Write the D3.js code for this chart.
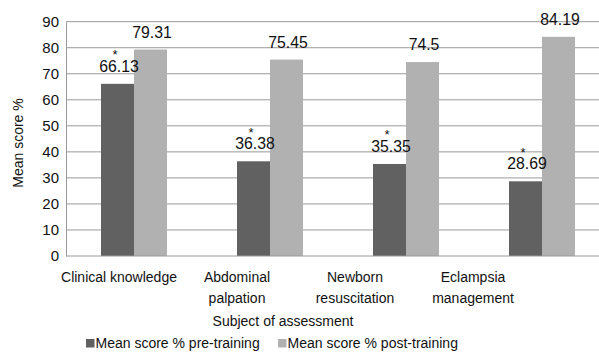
<!DOCTYPE html>
<html>
<head>
<meta charset="utf-8">
<script src="https://cdn.jsdelivr.net/npm/d3@7"></script>
<style>
  html, body { margin: 0; padding: 0; background: #fff; }
  svg { display: block; font-family: Arial, "Liberation Sans", sans-serif; }
</style>
</head>
<body>
<svg id="chart" width="599" height="352"></svg>
<script>
// Mean assessment scores before and after training
const categories = ["Clinical knowledge", "Abdominal palpation", "Newborn resuscitation", "Eclampsia management"];
const categoryLines = [["Clinical knowledge"], ["Abdominal", "palpation"], ["Newborn", "resuscitation"], ["Eclampsia", "management"]];
const seriesNames = ["Mean score % pre-training", "Mean score % post-training"];
const preTraining = [66.13, 36.38, 35.35, 28.69];
const postTraining = [79.31, 75.45, 74.5, 84.19];
const significant = [true, true, true, true];
const yTicks = [0, 10, 20, 30, 40, 50, 60, 70, 80, 90];
const colors = ["#616161", "#b1b1b1"];

const svg = d3.select("#chart");
const plot = { left: 66, right: 610, top: 21.7, bottom: 256 };

const y = d3.scaleLinear().domain([0, 90]).range([plot.bottom, plot.top]);
const x0 = d3.scaleBand().domain(categories).range([plot.left, plot.right]);
const x1 = d3.scaleBand().domain(seriesNames).range([0, x0.bandwidth()]).paddingInner(0).paddingOuter(1.06);
const xLabel = d3.scaleBand().domain(categories).range([60, 532]);

const rows = categories.map((c, i) => ({ cat: c, i, vals: [preTraining[i], postTraining[i]] }));

// horizontal gridlines
svg.append("g").selectAll("line").data(yTicks.filter(t => t > 0)).join("line")
  .attr("x1", plot.left).attr("x2", 599)
  .attr("y1", d => y(d)).attr("y2", d => y(d))
  .attr("stroke", "#9a9a9a").attr("stroke-width", 1);

// y axis
const yAxis = d3.axisLeft(y).tickValues(yTicks).tickSize(0).tickPadding(7);
const gy = svg.append("g").attr("transform", `translate(${plot.left},0)`).call(yAxis);
gy.select(".domain").attr("stroke", "#9a9a9a");
gy.selectAll("text").attr("font-size", 15).attr("fill", "#111").attr("font-family", "Arial, 'Liberation Sans', sans-serif");

// bars
const groups = svg.append("g").selectAll("g").data(rows).join("g")
  .attr("transform", d => `translate(${x0(d.cat)},0)`);
groups.selectAll("rect").data(d => d.vals.map((v, k) => ({ v, k }))).join("rect")
  .attr("x", d => x1(seriesNames[d.k]))
  .attr("width", x1.bandwidth())
  .attr("y", d => y(d.v))
  .attr("height", d => y(0) - y(d.v))
  .attr("fill", d => colors[d.k]);

// value labels
groups.selectAll("text.val").data(d => d.vals.map((v, k) => ({ v, k }))).join("text")
  .attr("class", "val")
  .attr("x", d => x1(seriesNames[d.k]) + x1.bandwidth() / 2 + 1.5)
  .attr("y", d => y(d.v) - 12)
  .attr("text-anchor", "middle")
  .attr("font-size", 15.8)
  .attr("fill", "#111")
  .text(d => d.v);

// significance markers above the pre-training labels
groups.filter(d => significant[d.i]).append("text")
  .attr("x", d => x1(seriesNames[0]) + x1.bandwidth() / 2 - 2.5)
  .attr("y", d => y(d.vals[0]) - 24.5)
  .attr("text-anchor", "middle")
  .attr("font-size", 13)
  .attr("fill", "#111")
  .text("*");

// x axis baseline
svg.append("line")
  .attr("x1", plot.left).attr("x2", 599)
  .attr("y1", plot.bottom).attr("y2", plot.bottom)
  .attr("stroke", "#9a9a9a");

// category labels
const catText = svg.append("g").selectAll("text").data(categories).join("text")
  .attr("text-anchor", "middle")
  .attr("font-size", 14)
  .attr("fill", "#111")
  .attr("transform", d => `translate(${xLabel(d) + xLabel.bandwidth() / 2},282)`);
catText.selectAll("tspan").data((d, i) => categoryLines[i]).join("tspan")
  .attr("x", 0).attr("y", (d, j) => j * 20.5)
  .text(d => d);

// axis titles
svg.append("text")
  .attr("x", 283).attr("y", 326)
  .attr("text-anchor", "middle").attr("font-size", 14).attr("fill", "#111")
  .text("Subject of assessment");
svg.append("text")
  .attr("transform", "translate(23,143) rotate(-90)")
  .attr("text-anchor", "middle").attr("font-size", 14).attr("fill", "#111")
  .text("Mean score %");

// legend
const legendX = [86, 278];
const legend = svg.append("g").selectAll("g").data(seriesNames).join("g")
  .attr("transform", (d, i) => `translate(${legendX[i]},339)`);
legend.append("rect").attr("width", 8.5).attr("height", 8.5).attr("fill", (d, i) => colors[i]);
legend.append("text").attr("x", 9.5).attr("y", 8.5)
  .attr("font-size", 14).attr("fill", "#111").text(d => d);
</script>
</body>
</html>
